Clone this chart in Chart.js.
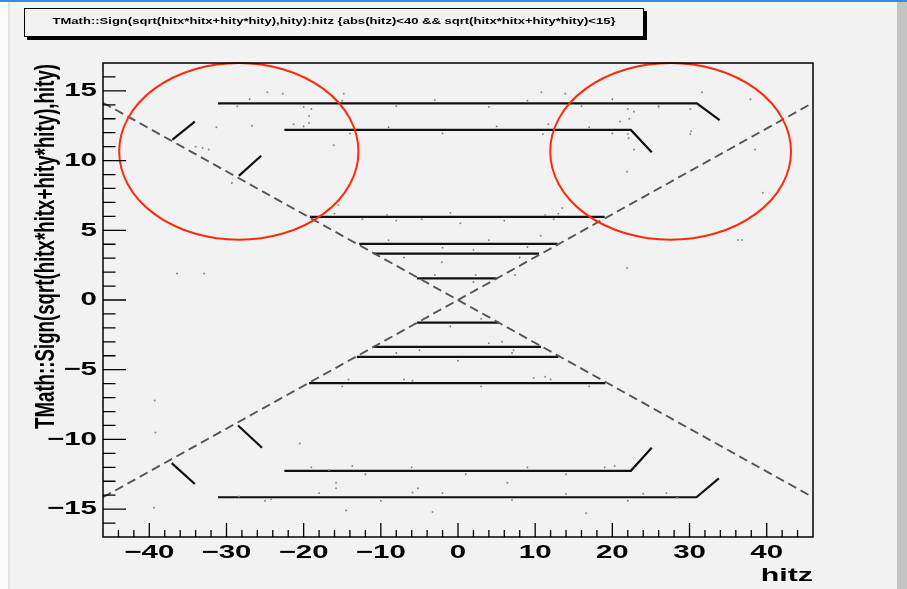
<!DOCTYPE html>
<html>
<head>
<meta charset="utf-8">
<script src="https://cdn.jsdelivr.net/npm/chart.js@4/dist/chart.umd.min.js"></script>
<style>
body { margin: 0; background: #f2f2f2; }
canvas { display: block; }
</style>
</head>
<body>
<canvas id="hitPlot" width="907" height="589"></canvas>
<script>
// axis ticks
var xTickLabels = [-40, -30, -20, -10, 0, 10, 20, 30, 40];
var yTickLabels = [-15, -10, -5, 0, 5, 10, 15];
var xRange = [-46, 46];
var yRange = [-17, 17];

// dashed cone (hitz, signed radius)
var coneDown = [[-46, 14.15], [46, -14.15]];
var coneUp = [[-46, -14.15], [46, 14.15]];

// reconstructed tracks
var trackTop1 = [[-31.1, 14.1], [30.95, 14.1], [33.9, 12.9]];
var trackTop2 = [[-22.5, 12.2], [22.4, 12.2], [25.1, 10.6]];
var trackTop3 = [[-19.2, 5.96], [19.0, 5.96]];
var trackTop4 = [[-12.8, 4.03], [12.9, 4.03]];
var trackTop5 = [[-10.9, 3.32], [10.5, 3.32]];
var trackTop6 = [[-5.3, 1.55], [5.0, 1.55]];
var trackBot6 = [[-5.3, -1.63], [5.3, -1.63]];
var trackBot5 = [[-10.9, -3.36], [10.75, -3.36]];
var trackBot4 = [[-13.1, -4.08], [13.0, -4.08]];
var trackBot3 = [[-19.3, -5.96], [19.1, -5.96]];
var trackBot2 = [[-22.5, -12.25], [22.4, -12.25], [25.1, -10.6]];
var trackBot1 = [[-31.1, -14.15], [30.9, -14.15], [33.8, -12.8]];
var stubTopA = [[-37.0, 11.5], [-34.1, 12.8]];
var stubTopB = [[-28.4, 8.9], [-25.5, 10.35]];
var stubBotA = [[-37.1, -11.7], [-34.1, -13.2]];
var stubBotB = [[-28.5, -9.0], [-25.4, -10.6]];

// loose hits
var strayHits = [
    [-24.7, 14.9], [-22.7, 14.8], [-14.8, 14.8], [-28.6, 13.9], [-19.0, 13.7], [-19.3, 13.2],
    [-19.3, 12.7], [-21.3, 12.6], [-26.7, 12.5], [-31.3, 12.4], [-16.1, 11.1], [-34.0, 11.0],
    [-33.1, 10.9], [-32.3, 10.8], [-29.3, 8.4], [-15.5, 6.8], [-12.4, 5.8],
    [10.8, 14.9], [13.9, 14.8], [31.6, 14.9], [37.9, 14.4], [22.0, 13.7], [22.8, 13.5],
    [22.2, 13.0], [21.0, 12.8], [26.0, 13.9], [30.1, 13.7], [30.2, 12.1], [30.1, 11.9],
    [22.0, 11.9], [22.1, 11.6], [22.8, 10.8], [38.5, 10.8], [21.9, 9.2], [39.5, 7.7],
    [36.3, 4.3], [36.8, 4.3], [13.5, 6.6], [11.7, 12.6], [12.4, 5.8],
    [-9.2, 6.1], [0.3, 5.5], [-2.1, 2.7], [10.7, 4.6], [2.3, 1.8], [7.4, 1.8],
    [21.9, 2.3], [-4.7, 5.8], [11.3, 6.1],
    [5.7, -3.0], [7.2, -3.6], [11.3, -5.5], [9.8, -5.6], [-14.2, -5.7], [-5.9, -5.8],
    [-39.2, -9.5], [-39.4, -14.9], [-39.3, -7.2], [-20.5, -10.3], [-13.7, -11.9], [-16.7, -12.2],
    [-15.8, -13.5], [-5.2, -13.5], [-5.9, -13.8], [6.4, -13.1], [20.3, -11.9], [24.0, -13.9],
    [28.4, -14.2], [-28.4, -14.1], [-24.2, -14.3], [-3.3, -15.2], [16.6, -15.3], [-14.5, -15.1],
    [-15.8, -13.1], [-32.9, 1.9], [-36.4, 1.9]
];
var fuzzHits = [
    [-27, 14.4], [-20, 13.85], [-15, 14.3], [-8, 13.9], [-3, 14.35], [4, 13.85], [9, 14.3],
    [16, 13.9], [20, 14.4], [26, 13.85],
    [-20, 12.45], [-14, 11.95], [-9, 12.4], [-2, 11.95], [5, 12.45], [11, 11.9], [17, 12.4], [20, 11.95],
    [-16, 6.2], [-8, 5.7], [-1, 6.25], [6, 5.7], [13, 6.2],
    [-9, 4.3], [-2, 3.75], [4, 4.3], [9, 3.8], [-7, 3.05], [2, 3.6], [8, 3.05], [-3, 1.8], [2, 1.3],
    [-25, -14.4], [-18, -13.85], [-10, -14.4], [-2, -13.85], [7, -14.35], [14, -13.9], [22, -14.4], [27, -13.85],
    [-19, -12.0], [-12, -12.5], [-6, -12.0], [1, -12.5], [9, -12.0], [14, -12.5], [19, -12.0],
    [-15, -6.2], [-7, -5.7], [3, -6.2], [12, -5.7], [17, -6.2],
    [-8, -3.8], [0, -4.35], [7, -3.8], [-5, -3.6], [4, -3.1], [-1, -1.9], [3, -1.35]
];

// red marker ellipses (centre and radii in axis units)
var ringX = [-28.4, 27.55];
var ringY = [10.66, 10.66];
var ringRx = [15.5, 15.6];
var ringRy = [6.34, 6.34];

function pts(arr) {
    return arr.map(function(p) { return { x: p[0], y: p[1] }; });
}

function fmt(v) {
    return v < 0 ? '\u2212' + Math.abs(v) : String(v);
}

// text squeezed like the ROOT output (wide glyphs)
function wideText(ctx, txt, x, y, size, sx, align) {
    ctx.save();
    ctx.translate(x, y);
    ctx.scale(sx, 1);
    ctx.font = 'bold ' + size + 'px "Liberation Sans", Arial, sans-serif';
    ctx.textAlign = align;
    ctx.textBaseline = 'middle';
    ctx.fillStyle = '#000';
    ctx.fillText(txt, 0, 0);
    ctx.restore();
}

var rootLook = {
    id: 'rootLook',
    beforeDraw: function(chart) {
        var ctx = chart.ctx;
        ctx.save();
        ctx.fillStyle = '#f2f2f2';
        ctx.fillRect(0, 0, chart.width, chart.height);
        ctx.fillStyle = '#fafafa';
        ctx.fillRect(0, 0, 8, chart.height);
        ctx.fillStyle = '#e2e2e2';
        ctx.fillRect(8, 0, 2, chart.height);
        ctx.fillStyle = '#c4c4c4';
        ctx.fillRect(897, 0, 10, chart.height);
        ctx.fillStyle = '#3d88e6';
        ctx.fillRect(0, 0, chart.width, 2);

        // title box with shadow
        ctx.fillStyle = '#000';
        ctx.fillRect(27, 11, 620, 29);
        ctx.fillStyle = '#f2f2f2';
        ctx.fillRect(24, 8, 620, 29);
        ctx.strokeStyle = '#000';
        ctx.lineWidth = 1;
        ctx.strokeRect(24.5, 8.5, 619, 28);
        var title = 'TMath::Sign(sqrt(hitx*hitx+hity*hity),hity):hitz {abs(hitz)<40 && sqrt(hitx*hitx+hity*hity)<15}';
        ctx.font = 'bold 9px "Liberation Sans", Arial, sans-serif';
        var w = ctx.measureText(title).width;
        wideText(ctx, title, 334, 22, 9, 563 / w, 'center');
        ctx.restore();
    },
    afterDatasetsDraw: function(chart) {
        var ctx = chart.ctx;
        var a = chart.chartArea;
        var xs = chart.scales.x, ys = chart.scales.y;
        ctx.save();

        // red rings
        ctx.strokeStyle = '#ff2a0a';
        ctx.lineWidth = 2;
        for (var i = 0; i < ringX.length; i++) {
            var cx = xs.getPixelForValue(ringX[i]);
            var cy = ys.getPixelForValue(ringY[i]);
            var rx = Math.abs(xs.getPixelForValue(ringX[i] + ringRx[i]) - cx);
            var ry = Math.abs(ys.getPixelForValue(ringY[i] + ringRy[i]) - cy);
            ctx.beginPath();
            ctx.ellipse(cx, cy, rx, ry, 0, 0, Math.PI * 2);
            ctx.stroke();
        }

        // frame
        ctx.strokeStyle = '#000';
        ctx.lineWidth = 1.5;
        ctx.strokeRect(a.left, a.top, a.right - a.left, a.bottom - a.top);

        // ticks, drawn inward like ROOT
        ctx.lineWidth = 1.3;
        ctx.beginPath();
        for (var v = -44; v <= 44; v += 2) {
            var px = xs.getPixelForValue(v);
            var len = (v % 10 === 0) ? 14 : 7;
            ctx.moveTo(px, a.bottom);
            ctx.lineTo(px, a.bottom - len);
        }
        for (var u = -16; u <= 16; u++) {
            var py = ys.getPixelForValue(u);
            var ln = (u % 5 === 0) ? 23 : 12.5;
            ctx.moveTo(a.left, py);
            ctx.lineTo(a.left + ln, py);
        }
        ctx.stroke();

        // tick labels
        xTickLabels.forEach(function(t) {
            wideText(ctx, fmt(t), xs.getPixelForValue(t), 553, 19, 1.55, 'center');
        });
        yTickLabels.forEach(function(t) {
            wideText(ctx, fmt(t), 97, ys.getPixelForValue(t), 19, 1.55, 'right');
        });

        // axis titles
        wideText(ctx, 'hitz', 813, 576, 19, 1.6, 'right');
        var yTitle = 'TMath::Sign(sqrt(hitx*hitx+hity*hity),hity)';
        ctx.font = 'bold 19px "Liberation Sans", Arial, sans-serif';
        var tw = ctx.measureText(yTitle).width;
        ctx.translate(46, 64);
        ctx.rotate(-Math.PI / 2);
        ctx.scale(365 / tw, 1.5);
        ctx.textAlign = 'right';
        ctx.textBaseline = 'middle';
        ctx.fillStyle = '#000';
        ctx.fillText(yTitle, 0, 0);
        ctx.restore();
    }
};

function trackSet(arr) {
    return {
        data: pts(arr),
        showLine: true,
        borderColor: '#111',
        borderWidth: 2.2,
        pointRadius: 0
    };
}

var datasets = [
    {
        data: pts(coneDown), showLine: true, borderColor: '#555',
        borderWidth: 1.9, borderDash: [9, 5], pointRadius: 0
    },
    {
        data: pts(coneUp), showLine: true, borderColor: '#555',
        borderWidth: 1.9, borderDash: [9, 5], pointRadius: 0
    },
    {
        data: pts(strayHits), pointRadius: 1, backgroundColor: '#8c8c8c', borderWidth: 0
    },
    {
        data: pts(fuzzHits), pointRadius: 0.9, backgroundColor: '#777', borderWidth: 0
    }
];
[trackTop1, trackTop2, trackTop3, trackTop4, trackTop5, trackTop6,
 trackBot6, trackBot5, trackBot4, trackBot3, trackBot2, trackBot1,
 stubTopA, stubTopB, stubBotA, stubBotB].forEach(function(t) {
    datasets.push(trackSet(t));
});

new Chart(document.getElementById('hitPlot'), {
    type: 'scatter',
    data: { datasets: datasets },
    options: {
        responsive: false,
        animation: false,
        events: [],
        layout: { padding: { left: 103, top: 63, right: 94, bottom: 52 } },
        plugins: { legend: { display: false }, tooltip: { enabled: false } },
        scales: {
            x: { type: 'linear', display: false, min: xRange[0], max: xRange[1] },
            y: { type: 'linear', display: false, min: yRange[0], max: yRange[1] }
        }
    },
    plugins: [rootLook]
});
</script>
</body>
</html>
